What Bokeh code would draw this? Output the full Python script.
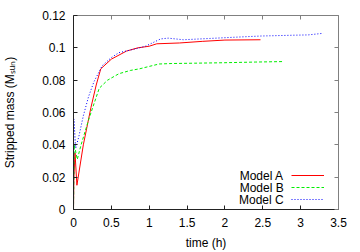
from bokeh.plotting import figure
from bokeh.models import (Range1d, LinearAxis, FixedTicker, CustomJSTickFormatter,
                          Label, Legend, LegendItem)
from bokeh.embed import file_html
from bokeh.resources import INLINE

# ---------------- data ----------------
time_a = [0, 0.005, 0.02, 0.045, 0.13, 0.23, 0.3, 0.36, 0.5, 0.7, 0.85, 1.0, 1.1, 1.4, 1.7, 2.0, 2.47]
mass_a = [0, 0.02, 0.035, 0.015, 0.04, 0.063, 0.077, 0.087, 0.093, 0.098, 0.1, 0.101, 0.1025, 0.103, 0.104, 0.1048, 0.105]

time_b = [0, 0.01, 0.05, 0.1, 0.21, 0.34, 0.45, 0.6, 0.75, 0.87, 1.0, 1.13, 1.3, 1.6, 2.0, 2.4, 2.76]
mass_b = [0, 0.04, 0.031, 0.04, 0.057, 0.075, 0.08, 0.084, 0.086, 0.087, 0.0885, 0.09, 0.0903, 0.0905, 0.0908, 0.0912, 0.0915]

time_c = [0, 0.005, 0.03, 0.07, 0.13, 0.2, 0.27, 0.38, 0.5, 0.6, 0.83, 0.95, 1.04, 1.15, 1.25, 1.45, 1.8, 2.1, 2.47, 2.9, 3.1, 3.3]
mass_c = [0, 0.056, 0.038, 0.045, 0.058, 0.07, 0.079, 0.089, 0.094, 0.097, 0.0995, 0.101, 0.103, 0.1055, 0.106, 0.105, 0.1058, 0.1065, 0.1073, 0.1078, 0.108, 0.109]

series_names = ["Model A", "Model B", "Model C"]
x_ticks = [0, 0.5, 1, 1.5, 2, 2.5, 3, 3.5]
y_ticks = [0, 0.02, 0.04, 0.06, 0.08, 0.1, 0.12]
x_title = "time (h)"
y_title = "Stripped mass (M\u209b\u1d64\u2099)"

# ---------------- layout ----------------
FONT = "Liberation Sans"
W, H = 360, 252
ML, MR, MT, MB = 72, 22, 15, 38
X0, X1, Y0, Y1 = 0, 3.5, 0, 0.12
FW, FH = W - ML - MR, H - MT - MB

def px_x(page_x):
    return X0 + (page_x - ML) / FW * (X1 - X0)

def px_y(page_y):
    return Y0 + (MT + FH - page_y) / FH * (Y1 - Y0)

p = figure(width=W, height=H, output_backend="svg", toolbar_location=None,
           x_range=Range1d(X0, X1), y_range=Range1d(Y0, Y1),
           min_border_left=ML, min_border_right=MR, min_border_top=MT, min_border_bottom=MB,
           x_axis_type=None, y_axis_type=None)
p.grid.visible = False
p.outline_line_color = None
p.background_fill_color = "white"
p.border_fill_color = "white"

fmt = CustomJSTickFormatter(code="return String(parseFloat(tick.toFixed(3)));")
blank = CustomJSTickFormatter(code="return '';")

def make_axis(ticks, labelled, color, standoff):
    return LinearAxis(ticker=FixedTicker(ticks=ticks), formatter=fmt if labelled else blank,
                      major_tick_in=4, major_tick_out=0, minor_tick_in=0, minor_tick_out=0,
                      axis_line_color=color, major_tick_line_color=color, axis_line_width=1,
                      major_label_text_font=FONT,
                      major_label_text_font_size="12px" if labelled else "1px",
                      major_label_text_color="black", major_label_standoff=standoff,
                      axis_label_text_font=FONT, axis_label_text_font_size="12px",
                      axis_label_text_font_style="normal", axis_label_text_color="black")

xb = make_axis(x_ticks, True, "#222222", 8)
xb.axis_label = x_title
xb.axis_label_standoff = 6
yl = make_axis(y_ticks, True, "#222222", 8)
yl.axis_label = y_title
yl.axis_label_standoff = 22
p.add_layout(xb, "below")
p.add_layout(yl, "left")
p.add_layout(make_axis(x_ticks, False, "#808080", 0), "above")
p.add_layout(make_axis(y_ticks, False, "#808080", 0), "right")

ra = p.line(time_a, mass_a, line_color="#ff0000", line_width=1)
rb = p.line(time_b, mass_b, line_color="#00ee00", line_width=1, line_dash="3 2")
rc = p.line(time_c, mass_c, line_color="#0000ff", line_width=1, line_dash="1 2")

legend = Legend(items=[LegendItem(label="", renderers=[r]) for r in (ra, rb, rc)],
                location=(218, 4), glyph_width=33, glyph_height=12, label_width=0,
                label_height=12, label_standoff=0, spacing=0, padding=0, margin=0,
                border_line_color=None, background_fill_alpha=0,
                label_text_font_size="1px")
p.add_layout(legend)

for i, name in enumerate(series_names):
    p.add_layout(Label(x=px_x(283), y=px_y(180 + 12 * i), text=name, text_align="right",
                       text_baseline="middle", text_font=FONT, text_font_size="12px",
                       text_color="black"))

open("out.html", "w").write(file_html(p, INLINE))
